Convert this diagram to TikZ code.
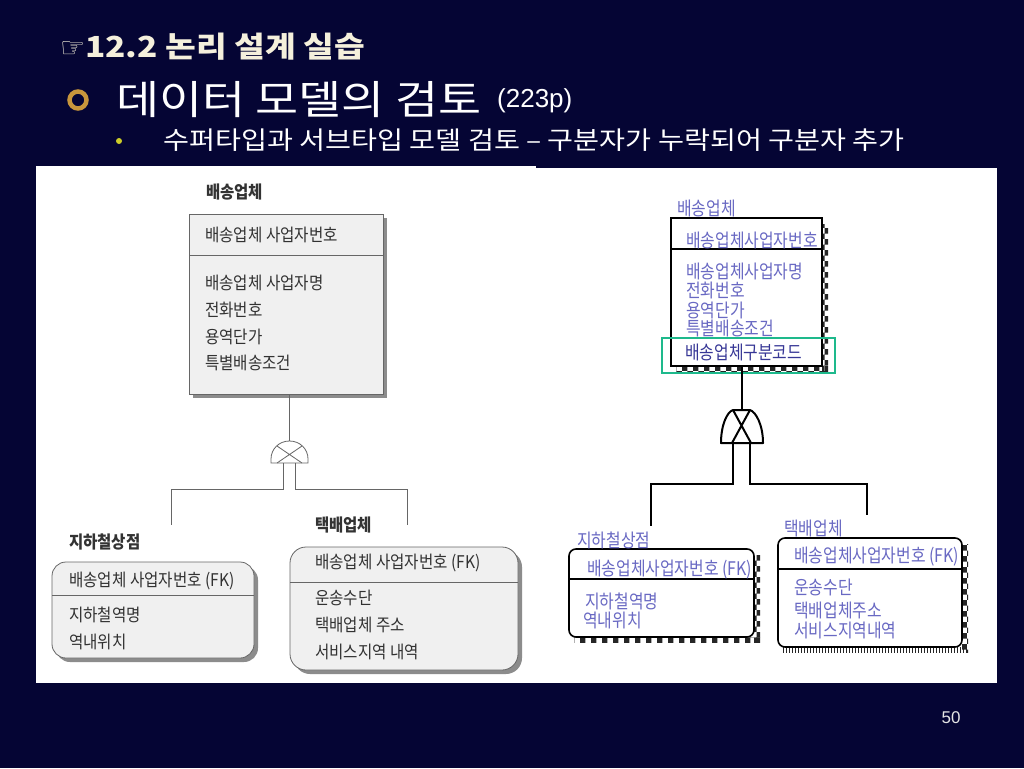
\documentclass[tikz,border=0pt]{standalone}
\usepackage{fontspec}
\usepackage{graphicx}
\setmainfont{Noto Sans CJK KR}
\newfontfamily\kr{Noto Sans CJK KR}
\newfontfamily\symf{DejaVu Sans}
\newfontfamily\arial{Liberation Sans}
\usetikzlibrary{patterns,shadows}
\definecolor{bg}{RGB}{5,5,52}
\definecolor{titlec}{RGB}{245,240,220}
\definecolor{gold}{RGB}{200,150,60}
\definecolor{ydot}{RGB}{205,205,40}
\definecolor{rblue}{RGB}{105,105,195}
\definecolor{rdark}{RGB}{55,55,150}
\definecolor{gbox}{RGB}{30,185,140}
\definecolor{ltext}{RGB}{50,50,50}
\newcommand{\ys}[1]{\scalebox{1}[1.12]{#1}}
\newcommand{\yr}[1]{\scalebox{1}[1.18]{#1}}
\tikzset{
 ltxt/.style={anchor=west, inner sep=0pt, text=ltext, font=\kr\fontsize{15.6}{17}\selectfont},
 ltitle/.style={anchor=west, inner sep=0pt, text=black!80, font=\kr\bfseries\fontsize{15.5}{17}\selectfont},
 rtxt/.style={anchor=west, inner sep=0pt, text=rblue, font=\kr\fontsize{15.9}{17}\selectfont},
 lbox/.style={draw=black!60, fill=black!6, inner sep=0pt, line width=0.8pt,
   drop shadow={shadow xshift=4pt, shadow yshift=-4pt, fill=black!45, opacity=1}},
 rbox/.style={draw=black, line width=1.6pt, fill=white, inner sep=0pt},
 lline/.style={draw=black!60, line width=0.8pt},
 rline/.style={draw=black, line width=2pt},
 chk/.style={pattern=checkerboard, pattern color=black!85},
 vln/.style={pattern=vertical lines, pattern color=black!85},
}
\begin{document}
\begin{tikzpicture}[x=1pt,y=-1pt]
\fill[bg] (0,0) rectangle (1024,768);
\useasboundingbox (0,0) rectangle (1024,768);
\fill[white] (36,166) rectangle (536,683);
\fill[white] (536,168) rectangle (997,683);

% ---------- titles ----------
\node[anchor=west, inner sep=0pt, text=titlec] (t1) at (60,47)
  {{\symf\fontsize{28}{30}\selectfont ☞}\scalebox{1.15}[1]{\kr\bfseries\fontsize{29}{32}\selectfont 12.2 논리 설계 실습}};
\node[circle, draw=gold, line width=4.5pt, minimum size=17pt, inner sep=0pt] (b1) at (78,100) {};
\node[anchor=west, inner sep=0pt, text=white, font=\kr\fontsize{40}{44}\selectfont] (t2) at (116,100) {\scalebox{1.17}[1]{데이터 모델의 검토}};
\node[anchor=west, inner sep=0pt, text=white, font=\arial\fontsize{26}{30}\selectfont] (t2b) at (497,101) {(223p)};
\node[circle, fill=ydot, minimum size=6pt, inner sep=0pt] (b2) at (119,141) {};
\node[anchor=west, inner sep=0pt, text=white, font=\kr\fontsize{25}{28}\selectfont] (t3) at (163,140)
  {\scalebox{1.13}[1]{수퍼타입과 서브타입 모델 검토 – 구분자가 누락되어 구분자 추가}};
\node[inner sep=0pt, text=black!10, font=\arial\fontsize{17}{20}\selectfont] (pn) at (951,718) {50};

% ---------- left diagram ----------
\node[lbox, minimum width=194pt, minimum height=180pt] (LS) at (286,304) {};
\draw[lline] (189,255) -- (383,255);
\node[lbox, rounded corners=14pt, minimum width=202pt, minimum height=96pt] (LA) at (153,610) {};
\draw[lline] (52,595) -- (254,595);
\node[lbox, rounded corners=16pt, minimum width=228pt, minimum height=123pt] (LB) at (404,608.5) {};
\draw[lline] (290,582) -- (518,582);

\node[ltitle] (l0) at (206,192) {\ys{배송업체}};
\node[ltxt] (l1) at (205,235) {\ys{배송업체 사업자번호}};
\node[ltxt] (l2) at (205,283) {\ys{배송업체 사업자명}};
\node[ltxt] (l3) at (205,310) {\ys{전화번호}};
\node[ltxt] (l4) at (205,337) {\ys{용역단가}};
\node[ltxt] (l5) at (205,363) {\ys{특별배송조건}};

\node[ltitle] (la0) at (69,542) {\ys{지하철상점}};
\node[ltxt] (la1) at (69,581) {\ys{배송업체 사업자번호 (FK)}};
\node[ltxt] (la2) at (69,615) {\ys{지하철역명}};
\node[ltxt] (la3) at (69,642) {\ys{역내위치}};

\node[ltitle] (lb0) at (315,525) {\ys{택배업체}};
\node[ltxt] (lb1) at (315,563) {\ys{배송업체 사업자번호 (FK)}};
\node[ltxt] (lb2) at (315,598) {\ys{운송수단}};
\node[ltxt] (lb3) at (315,625) {\ys{택배업체 주소}};
\node[ltxt] (lb4) at (315,652) {\ys{서비스지역 내역}};

\coordinate (LDt) at (289.5,441);
\coordinate (LDbl) at (283,463);
\coordinate (LDbr) at (295,463);
\coordinate (LJa) at (171,489);
\coordinate (LJb) at (171,525);
\coordinate (LKa) at (407,489);
\coordinate (LKb) at (407,525);
\draw[lline] (LDt |- LS.south) -- (LDt);
\draw[lline] (271,463) -- (271,459) .. controls (271,449) and (279,441) .. (LDt)
  .. controls (300,441) and (308,449) .. (308,459) -- (308,463) -- cycle;
\draw[lline] (277,446) -- (302,463) (302,446) -- (277,463);
\draw[lline] (LDbl) -- (LDbl |- LJa) -- (LJa) -- (LJb);
\draw[lline] (LDbr) -- (LDbr |- LKa) -- (LKa) -- (LKb);

% ---------- right diagram ----------
\fill[chk] (822,224) rectangle (828,371);
\fill[chk] (676,366) rectangle (828,371);
\fill[chk] (754,555) rectangle (760,642);
\fill[chk] (574,637) rectangle (760,642);
\fill[chk] (962,544) rectangle (968,652);
\fill[vln] (783,647) rectangle (968,652);

\node[rbox, minimum width=151pt, minimum height=148pt] (RS) at (746.5,292) {};
\draw[black, line width=1.6pt] (671,249) -- (822,249);
\node[rbox, rounded corners=7pt, minimum width=185pt, minimum height=88pt] (RA) at (661.5,593) {};
\draw[black, line width=1.6pt] (569,579) -- (754,579);
\node[rbox, rounded corners=7pt, minimum width=184pt, minimum height=109pt] (RB) at (870,592.5) {};
\draw[black, line width=1.6pt] (778,569) -- (962,569);

\node[rtxt] (r0) at (677,208) {\yr{배송업체}};
\node[rtxt] (r1) at (686,240) {\yr{배송업체사업자번호}};
\node[rtxt] (r2) at (686,271) {\yr{배송업체사업자명}};
\node[rtxt] (r3) at (686,290) {\yr{전화번호}};
\node[rtxt] (r4) at (686,310) {\yr{용역단가}};
\node[rtxt] (r5) at (686,328) {\yr{특별배송조건}};
\node[rtxt, text=rdark] (r6) at (685,352) {\yr{배송업체구분코드}};
\node[draw=gbox, line width=2.2pt, minimum width=173pt, minimum height=35pt, inner sep=0pt] (G) at (748.5,355.5) {};

\node[rtxt] (ra0) at (577,540) {\yr{지하철상점}};
\node[rtxt] (ra1) at (587,570) {\yr{배송업체사업자번호 (FK)}};
\node[rtxt] (ra2) at (585,601) {\yr{지하철역명}};
\node[rtxt] (ra3) at (583,620) {\yr{역내위치}};

\node[rtxt] (rb0) at (784,528) {\yr{택배업체}};
\node[rtxt] (rb1) at (794,557) {\yr{배송업체사업자번호 (FK)}};
\node[rtxt] (rb2) at (794,587) {\yr{운송수단}};
\node[rtxt] (rb3) at (794,610) {\yr{택배업체주소}};
\node[rtxt] (rb4) at (794,630) {\yr{서비스지역내역}};

\coordinate (RDt) at (742,410);
\coordinate (RDbl) at (733,443);
\coordinate (RDbr) at (750,443);
\coordinate (RJa) at (651,484);
\coordinate (RJb) at (651,526);
\coordinate (RKa) at (867,484);
\coordinate (RKb) at (867,515);
\draw[rline] (RDt |- RS.south) -- (RDt);
\draw[rline, line join=round] (721,443) .. controls (721,425) and (727,412) .. (733,410) -- (750,410)
  .. controls (756,412) and (763,425) .. (763,443) -- cycle;
\draw[rline] (733,410) -- (751,443) (750,410) -- (732,443);
\draw[rline] (RDbl) -- (RDbl |- RJa) -- (RJa) -- (RJb);
\draw[rline] (RDbr) -- (RDbr |- RKa) -- (RKa) -- (RKb);
\end{tikzpicture}
\end{document}
